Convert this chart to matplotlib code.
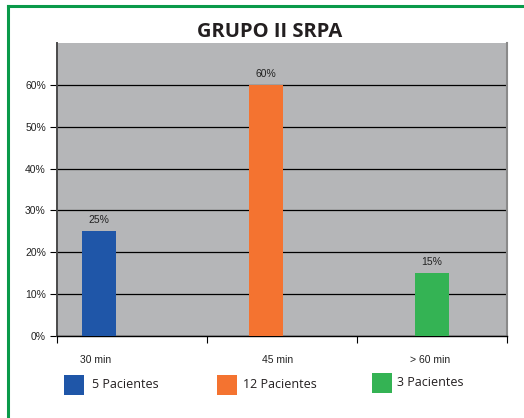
import matplotlib
matplotlib.use("Agg")
import matplotlib.pyplot as plt
from matplotlib.patches import Rectangle
from matplotlib.lines import Line2D

title = "GRUPO II SRPA"
categories = ["30 min", "45 min", "> 60 min"]
values = [25, 60, 15]
value_labels = ["25%", "60%", "15%"]
series_names = ["5 Pacientes", "12 Pacientes", "3 Pacientes"]
colors = ["#1f56a8", "#f47330", "#34b354"]
yticks = [0, 10, 20, 30, 40, 50, 60]

W, H = 524, 418
fig = plt.figure(figsize=(W / 100, H / 100), dpi=100)
fig.patch.set_facecolor("white")

# green frame (top + left)
fig.add_artist(Line2D([8 / W, 1], [1 - 6 / H, 1 - 6 / H], color="#0a9a4a", lw=2.2))
fig.add_artist(Line2D([8 / W, 8 / W], [1 - 6 / H, 0], color="#0a9a4a", lw=2.2))

ax = fig.add_axes([57 / W, 1 - 336 / H, 450 / W, 293 / H])
ax.set_facecolor("#b5b6b8")
ax.set_xlim(0, 3)
ax.set_ylim(0, 70)

offsets = [0.28, 0.393, 0.5]
bar_w = 0.227
xs = [i + offsets[i] for i in range(len(values))]
ax.bar(xs, values, width=bar_w, color=colors, zorder=3)
for x, v, lab in zip(xs, values, value_labels):
    ax.text(x, v + 1.5, lab, ha="center", va="bottom", fontsize=7.5,
            family="Liberation Sans", color="#222222", zorder=4)

ax.set_yticks(yticks)
ax.set_yticklabels([f"{t}%" for t in yticks], fontsize=7.5, family="Liberation Sans", color="#222222")
ax.yaxis.grid(True, color="black", lw=0.9, zorder=1)
ax.set_axisbelow(True)
ax.tick_params(axis="y", length=5, width=0.8, pad=3)

ax.set_xticks([0, 1, 2, 3])
ax.set_xticklabels([])
ax.tick_params(axis="x", length=5, width=0.8, direction="out")
label_x = [0.26, 1.47, 2.49]
for lx, c in zip(label_x, categories):
    ax.text(lx, -4.5, c, ha="center", va="top", fontsize=7.5,
            family="Liberation Sans", color="#222222", transform=ax.transData)

ax.spines["top"].set_visible(False)
ax.spines["left"].set_color("#4a4a4a")
ax.spines["left"].set_linewidth(1.4)
ax.spines["right"].set_color("#8a8a8a")
ax.spines["right"].set_linewidth(1.5)
ax.spines["bottom"].set_color("black")
ax.spines["bottom"].set_linewidth(1.0)

fig.text(270 / W, 1 - 32 / H, title, ha="center", va="center", fontsize=14.5,
         fontweight="bold", family="Open Sans", color="#231f20")

# legend
leg_items = [(64, 385, 92), (217, 385, 243), (372, 383, 397)]
for (sx, sy, tx), name, col in zip(leg_items, series_names, colors):
    fig.add_artist(Rectangle((sx / W, 1 - (sy + 10) / H), 20 / W, 20 / H,
                             facecolor=col, edgecolor="none", transform=fig.transFigure))
    fig.text(tx / W, 1 - sy / H, name, ha="left", va="center", fontsize=9,
             family="Open Sans", color="#231f20")

fig.savefig("out.png", dpi=100)
